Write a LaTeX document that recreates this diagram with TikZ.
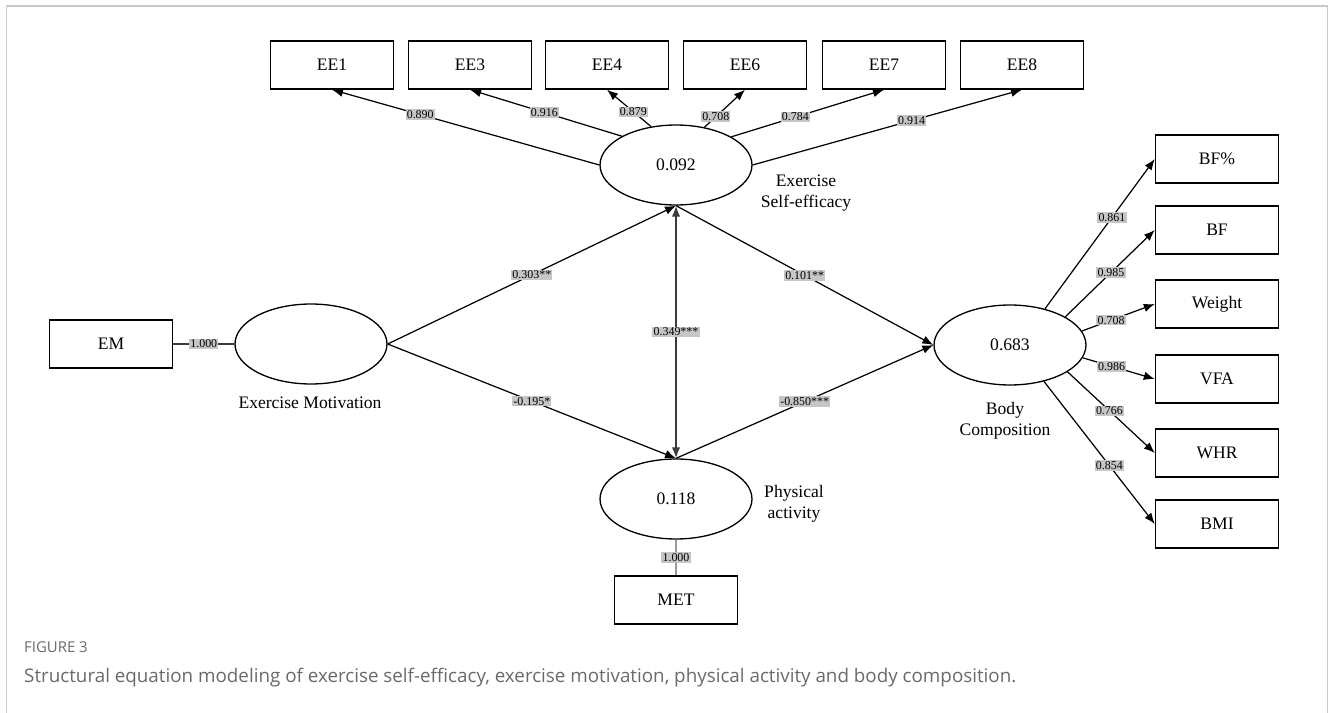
\documentclass[tikz,border=0pt]{standalone}
\usepackage{fontspec}
\setmainfont{Liberation Serif}
\newfontfamily\capfont{Open Sans}
\usepackage{tikz}
\usetikzlibrary{arrows.meta,shapes.geometric}
\usepackage{xcolor}
\definecolor{coefbg}{HTML}{C6C6C6}
\definecolor{framegray}{HTML}{C8C8C8}
\definecolor{capgray}{HTML}{6A6A6A}
\definecolor{covgray}{HTML}{3C3C3C}
\definecolor{metgray}{HTML}{9A9A9A}

\begin{document}
\begin{tikzpicture}[
  x=0.02cm, y=-0.02cm,
  every node/.style={font=\fontsize{10}{12}\selectfont},
  obs/.style={draw, line width=0.8pt, minimum width=2.46cm, minimum height=0.96cm, inner sep=0pt},
  lat/.style={ellipse, draw, line width=0.75pt, minimum width=3.04cm, minimum height=1.6cm, inner sep=0pt},
  coef/.style={fill=coefbg, inner sep=0.7pt, font=\fontsize{6.8}{7}\selectfont},
  reg/.style={-{Latex[length=2.2mm,width=1.7mm]}, line width=0.7pt},
  covar/.style={{Latex[length=2.2mm,width=1.7mm]}-{Latex[length=2.2mm,width=1.7mm]}, draw=covgray, line width=1.1pt},
  fixed/.style={line width=0.75pt},
  tag/.style={align=center}
]
\useasboundingbox (0,0) rectangle (1330,713);

% outer frame, open at the bottom
\draw[framegray, line width=0.7pt] (6.5,713) -- (6.5,6) -- (1327.5,6) -- (1327.5,713);

% latent variables
\node[lat] (motiv) at (311,344) {};
\node[lat] (effic) at (676,165) {0.092};
\node[lat] (activ) at (676,499) {0.118};
\node[lat] (body)  at (1010,345) {0.683};

\node[tag] at (310,403) {Exercise Motivation};
\node[tag] at (806,193) {Exercise\\Self-efficacy};
\node[tag] at (794,504) {Physical\\activity};
\node[tag] at (1005,421) {Body\\Composition};

% single indicators
\node[obs] (emobs)  at (111,344) {EM};
\node[obs] (metobs) at (676,600) {MET};
\draw[fixed, draw=covgray] (emobs) -- node[coef]{1.000} (motiv);
\draw[fixed, draw=metgray] (activ) -- node[coef]{1.000} (metobs);

% self-efficacy items
\foreach \nm/\cx/\ang/\val/\where in {1/332/180/0.890/0.67, 3/470/152/0.916/0.51,
    4/607/123/0.879/0.4, 6/745/53/0.708/0.28, 7/884/27/0.784/0.42, 8/1022/0/0.914/0.59} {
  \node[obs] (ee\nm) at (\cx,65) {EE\nm};
  \draw[reg] (effic.\ang) -- node[coef, pos=\where]{\val} (ee\nm.south);
}

% body composition items
\foreach \i/\txt/\cy/\ang/\val/\where in {1/BF\%/159/46/0.861/0.61, 2/BF/230/27/0.985/0.51,
    3/Weight/304/11/0.708/0.4, 4/VFA/379/-10/0.986/0.4, 5/WHR/453/-25/0.766/0.48, 6/BMI/524/-47/0.854/0.59} {
  \node[obs] (bc\i) at (1217,\cy) {\txt};
  \draw[reg] (body.\ang) -- node[coef, pos=\where]{\val} (bc\i.west);
}

% structural paths
\draw[reg] (motiv.east) -- node[coef]{0.303**} (effic.south);
\draw[reg] (motiv.east) -- node[coef]{-0.195*} (activ.north);
\draw[covar] (effic.south) -- node[coef]{0.349***} (activ.north);
\draw[reg] (effic.south) -- node[coef]{0.101**} (body.west);
\draw[reg] (activ.north) -- node[coef]{-0.850***} (body.west);

% caption
\node[anchor=base west, text=capgray, font=\capfont\fontsize{8.5}{10}\selectfont] (figno) at (18,652) {FIGURE 3};
\node[anchor=base west, text=capgray, font=\capfont\fontsize{10.7}{12}\selectfont] (captxt) at (18,682)
  {Structural equation modeling of exercise self-efficacy, exercise motivation, physical activity and body composition.};
\end{tikzpicture}
\end{document}
